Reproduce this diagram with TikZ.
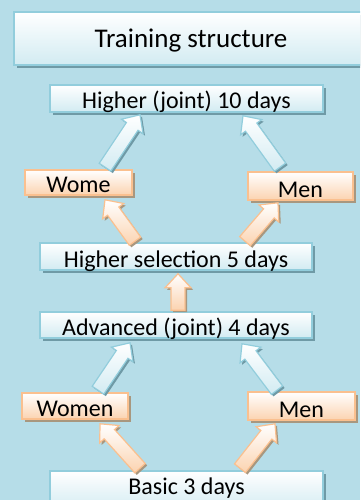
\documentclass[tikz,border=0pt]{standalone}
\usepackage{fontspec}
\setmainfont{Carlito}
\usetikzlibrary{calc,shadows}

\definecolor{bgblue}{HTML}{B6DDE8}
\definecolor{lineblue}{HTML}{92CDDC}
\definecolor{fillblue}{HTML}{D2EBF2}
\definecolor{shadeblue}{HTML}{6F9AA6}
\definecolor{lineorange}{HTML}{FAC08F}
\definecolor{fillorange}{HTML}{FBD3B0}
\definecolor{shadeorange}{HTML}{A8977F}

% block arrow from #2 (tail) to #3 (tip)
\newcommand{\blockarrow}[3]{%
  \coordinate (hb) at ($(#3)!14pt!(#2)$);
  \path[#1] ($(#2)!7pt!90:(#3)$) -- ($(hb)!7pt!90:(#3)$) -- ($(hb)!13pt!90:(#3)$) -- (#3)
    -- ($(hb)!13pt!-90:(#3)$) -- ($(hb)!7pt!-90:(#3)$) -- ($(#2)!7pt!-90:(#3)$) -- cycle;
}

\begin{document}
\begin{tikzpicture}[
    x=1pt,y=1pt,
    tbox/.style={rectangle,line width=1.6pt,top color=white,inner xsep=0pt,inner ysep=2pt,text depth=1pt,font=\fontsize{24}{28}\selectfont},
    bbox/.style={tbox,draw=lineblue,bottom color=fillblue,minimum width=#1,drop shadow={shadow xshift=3pt,shadow yshift=-3pt,fill=shadeblue,opacity=1}},
    obox/.style={tbox,draw=lineorange,bottom color=fillorange,minimum width=#1,drop shadow={shadow xshift=3pt,shadow yshift=-3pt,fill=shadeorange,opacity=1}},
    barrow/.style={draw=lineblue,line width=1.2pt,top color=white,bottom color=fillblue,drop shadow={shadow xshift=2pt,shadow yshift=-2pt,fill=shadeblue,opacity=1}},
    oarrow/.style={draw=lineorange,line width=1.2pt,top color=white,bottom color=fillorange,drop shadow={shadow xshift=2pt,shadow yshift=-2pt,fill=shadeorange,opacity=1}}
]
    \useasboundingbox (0,0) rectangle (360,-500);
    \fill[bgblue] (0,0) rectangle (360,-500);
    \clip (0,0) rectangle (360,-500);

    % Title
    \node[bbox=354pt,minimum height=53pt,inner ysep=0pt,text depth=0pt,font=\fontsize{27}{32}\selectfont] (title) at (191,-38.5) {Training structure};

    % Stages
    \node[bbox=273pt,text height=22pt] (high10) at (186.5,-98.5) {Higher (joint) 10 days};
    \node[obox=107pt,text height=20pt] (womeA) at (78.5,-182.5) {Wome};
    \node[obox=105pt,text height=23pt] (menA) at (300.5,-186) {Men};
    \node[bbox=272pt,text height=22pt] (sel5) at (176,-256.5) {Higher selection 5 days};
    \node[bbox=272pt,text height=21pt] (adv4) at (176,-325) {Advanced (joint) 4 days};
    \node[obox=106pt,text height=21pt] (womenB) at (75,-406) {Women};
    \node[obox=107pt,text height=23pt] (menB) at (301.5,-406) {Men};
    \node[bbox=273pt,text height=21pt,text depth=15pt] (basic) at (186.5,-491) {Basic 3 days};

    % Arrow ends
    \coordinate (t1) at ($(womeA.north)+(26.5,2)$);  \coordinate (h1) at ($(high10.south)+(-46.5,-2)$);
    \coordinate (t2) at ($(menA.north)+(-20.5,4)$);  \coordinate (h2) at ($(high10.south)+(56.5,-3)$);
    \coordinate (t3) at ($(sel5.north)+(-41,1)$);    \coordinate (h3) at ($(womeA.south)+(26.5,-4)$);
    \coordinate (t4) at ($(sel5.north)+(69,1)$);     \coordinate (h4) at ($(menA.south)+(-22.5,-2)$);
    \coordinate (t5) at ($(adv4.north)+(2,1)$);      \coordinate (h5) at ($(sel5.south)+(2,-3)$);
    \coordinate (t6) at ($(womenB.north)+(23,2)$);   \coordinate (h6) at ($(adv4.south)+(-46,-4)$);
    \coordinate (t7) at ($(menB.north)+(-24.5,1)$);  \coordinate (h7) at ($(adv4.south)+(66,-5)$);
    \coordinate (t8) at ($(basic.north)+(-46.5,2)$); \coordinate (h8) at ($(womenB.south)+(25,-4)$);
    \coordinate (t9) at ($(basic.north)+(53.5,2)$);  \coordinate (h9) at ($(menB.south)+(-26.5,-3)$);

    % Arrows
    \foreach \i in {1,2,6,7} {
        \blockarrow{barrow}{t\i}{h\i}
    }
    \foreach \i in {3,4,5,8,9} {
        \blockarrow{oarrow}{t\i}{h\i}
    }
\end{tikzpicture}
\end{document}
